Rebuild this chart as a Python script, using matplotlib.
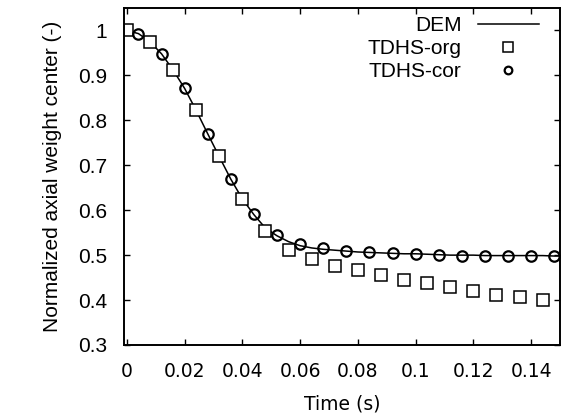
import numpy as np
import matplotlib
matplotlib.use("Agg")
import matplotlib.pyplot as plt

# DEM (line)
t_dem = [0.0, 0.004, 0.008, 0.012, 0.016, 0.020, 0.024, 0.028, 0.032, 0.036,
         0.040, 0.044, 0.048, 0.052, 0.056, 0.060, 0.064, 0.068, 0.072, 0.076,
         0.080, 0.084, 0.088, 0.092, 0.096, 0.100, 0.104, 0.108, 0.112, 0.116,
         0.120, 0.124, 0.128, 0.132, 0.136, 0.140, 0.144, 0.148, 0.150]
y_dem = [1.000, 0.993, 0.975, 0.948, 0.912, 0.871, 0.822, 0.770, 0.719, 0.669,
         0.625, 0.590, 0.560, 0.543, 0.530, 0.521, 0.516, 0.513, 0.511, 0.509,
         0.507, 0.506, 0.505, 0.504, 0.503, 0.503, 0.502, 0.501, 0.500, 0.500,
         0.500, 0.499, 0.499, 0.499, 0.499, 0.499, 0.499, 0.498, 0.498]

# TDHS-org (squares)
t_org = [0.000, 0.008, 0.016, 0.024, 0.032, 0.040, 0.048, 0.056, 0.064, 0.072,
         0.080, 0.088, 0.096, 0.104, 0.112, 0.120, 0.128, 0.136, 0.144]
y_org = [1.000, 0.975, 0.911, 0.822, 0.720, 0.625, 0.554, 0.512, 0.491, 0.475,
         0.466, 0.455, 0.445, 0.438, 0.429, 0.421, 0.412, 0.406, 0.400]

# TDHS-cor (circles)
t_cor = [0.004, 0.012, 0.020, 0.028, 0.036, 0.044, 0.052, 0.060, 0.068, 0.076,
         0.084, 0.092, 0.100, 0.108, 0.116, 0.124, 0.132, 0.140, 0.148]
y_cor = [0.993, 0.948, 0.871, 0.770, 0.669, 0.592, 0.545, 0.525, 0.515, 0.509,
         0.506, 0.504, 0.503, 0.500, 0.499, 0.499, 0.499, 0.499, 0.498]

xticks = [0, 0.02, 0.04, 0.06, 0.08, 0.1, 0.12, 0.14]
xticklabels = ["0", "0.02", "0.04", "0.06", "0.08", "0.1", "0.12", "0.14"]
yticks = [0.3, 0.4, 0.5, 0.6, 0.7, 0.8, 0.9, 1.0]
yticklabels = ["0.3", "0.4", "0.5", "0.6", "0.7", "0.8", "0.9", "1"]

fig = plt.figure(figsize=(5.66, 4.17), dpi=100)
ax = fig.add_axes([124/566, 72/417, 436/566, 337/417])

ax.plot(t_dem, y_dem, color="black", lw=1.1, label="DEM")
ax.plot(t_org, y_org, ls="none", marker="s", ms=8, mfc="white", mec="black",
        mew=1.1, label="TDHS-org")
ax.plot(t_cor, y_cor, ls="none", marker="o", ms=7.5, mfc="none", mec="black",
        mew=1.6, label="TDHS-cor")

ax.set_xlim(-0.001, 0.15)
ax.set_ylim(0.3, 1.05)
ax.set_xticks(xticks)
ax.set_xticklabels(xticklabels, family="DejaVu Sans", fontsize=13.5)
ax.set_yticks(yticks)
ax.set_yticklabels(yticklabels, family="Liberation Sans", fontsize=15)
ax.tick_params(direction="in", length=4, width=1, top=True, right=True, pad=12)
for s in ax.spines.values():
    s.set_linewidth(1.4)

ax.set_xlabel("Time (s)", family="DejaVu Sans", fontsize=13.5, labelpad=10)
ax.set_ylabel("Normalized axial weight center (-)", family="Liberation Sans",
              fontsize=15, labelpad=12)

leg = ax.legend(loc="upper right", markerfirst=False, frameon=False,
                prop={"family": "Liberation Sans", "size": 15},
                handlelength=2.9, borderaxespad=0.1, labelspacing=0.18,
                handletextpad=0.8,
                bbox_to_anchor=(1 - 11/436, 1 + 2/337))
# legend markers are a bit smaller than in the plot
hs = leg.legend_handles
hs[1].set_markersize(7)
hs[2].set_markersize(5.5)

fig.savefig("out.png", dpi=100)
